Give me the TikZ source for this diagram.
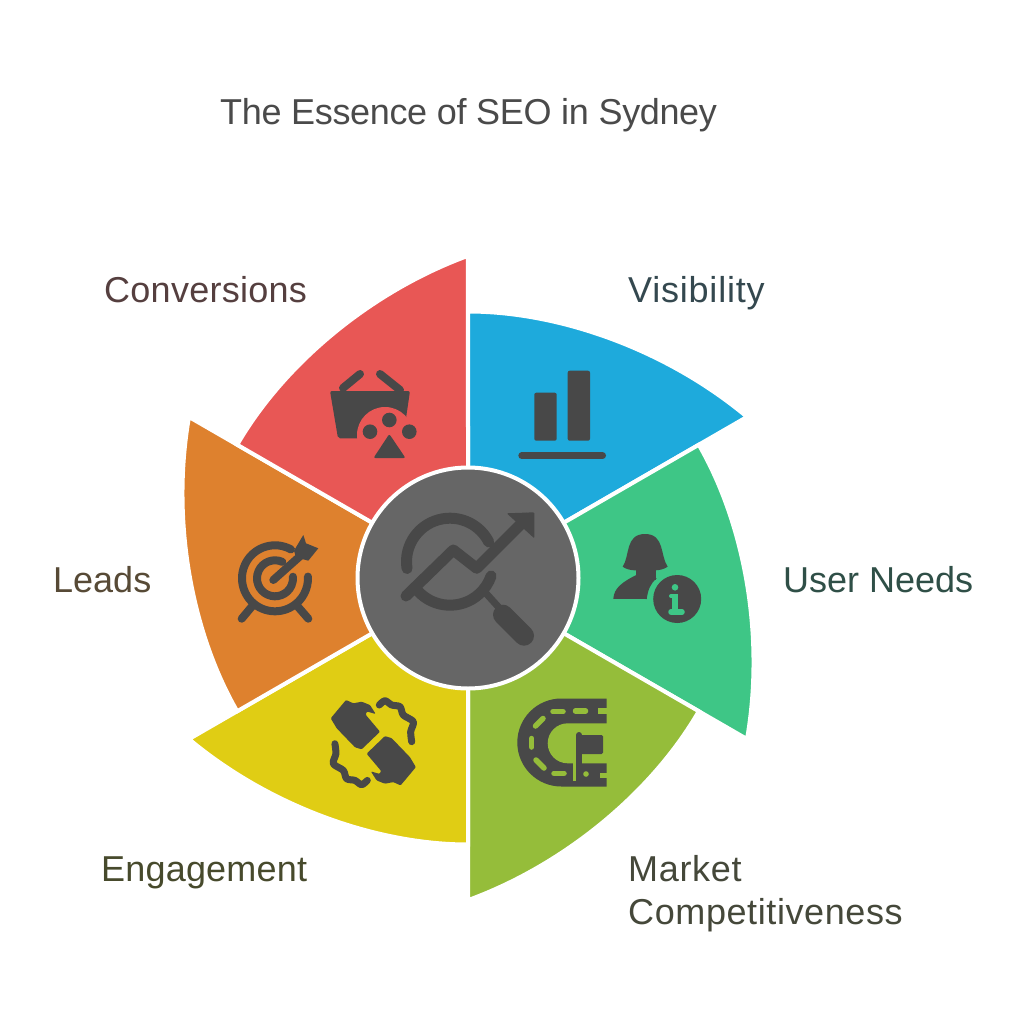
\documentclass[tikz,border=0pt]{standalone}
\usepackage{fontspec}
\setmainfont{Liberation Sans}

\begin{document}
\begin{tikzpicture}[x = 1pt, y = -1pt,
    label text/.style = {anchor = base west, inner sep = 0pt, font = \fontsize{36}{43}\selectfont\addfontfeature{LetterSpace = #1}},
    label text/.default = 0,
    icon/.style = {fill = iconcol},
    stroke/.style = {draw = iconcol, line width = 8pt, line cap = round, line join = round},
    gap/.style = {draw = #1, line width = 5.5pt, line cap = round},
    ring/.style = {draw = iconcol, line width = 11pt, line cap = round}]
  \definecolor{iconcol}{HTML}{484848}
  \definecolor{bluecol}{HTML}{1EAADC}
  \definecolor{greencol}{HTML}{3EC686}
  \definecolor{olivecol}{HTML}{95BD3A}
  \definecolor{yellowcol}{HTML}{E0CD14}
  \definecolor{orangecol}{HTML}{DE812E}
  \definecolor{redcol}{HTML}{E85755}
  \useasboundingbox (0, 0) rectangle (1024, 1024);
  \fill [white] (0, 0) rectangle (1024, 1024);

  \foreach \col [count = \i from 0] in {bluecol, greencol, olivecol, yellowcol, orangecol, redcol}
    \filldraw [fill = \col, draw = white, line width = 4pt, rotate around = {-60*\i:(468, 578)}]
      (468, 578) -- (468, 311.5) .. controls (560, 311.5) and (667, 350) .. (747, 416.9) -- cycle;
  \filldraw [fill = black!60, draw = white, line width = 4pt] (468, 578) circle [radius = 110.5];

  \node (title)  at (220, 125) [label text = -0.95, text = black!71] {The Essence of SEO in Sydney};
  \node (conv)   at (104, 302) [label text = 0.75, text = {rgb,255:red,85;green,63;blue,63}] {Conversions};
  \node (vis)    at (628, 302) [label text = 2.2, text = {rgb,255:red,52;green,72;blue,79}] {Visibility};
  \node (needs)  at (783, 592) [label text, text = {rgb,255:red,47;green,79;blue,71}] {User Needs};
  \node (leads)  at ( 53, 592) [label text, text = {rgb,255:red,87;green,74;blue,54}] {Leads};
  \node (engage) at (101, 881) [label text = 0.55, text = {rgb,255:red,71;green,74;blue,44}] {Engagement};
  \node (market) at (628, 881) [label text = 1.9, text = {rgb,255:red,69;green,72;blue,58}] {Market};
  \node (comp)   at (628, 924) [label text = 1.67, text = {rgb,255:red,69;green,72;blue,58}] {Competitiveness};

  \draw [ring] (450, 561.7) ++ (171:43.5) arc [start angle = 171, end angle = 333, radius = 43.5];
  \draw [ring] (450, 561.7) ++ (138:43.5) arc [start angle = 138, end angle = 19, radius = 43.5];
  \draw [ring, line join = round] (406, 596) -- (453.3, 550) -- (476.7, 568.3) -- (526.7, 518.3);
  \fill [icon, rounded corners = 1pt] (506.7, 513.3) -- (534.3, 512.3) -- (534.3, 538.3) -- cycle;
  \draw [draw = iconcol, line width = 7pt] (483, 590) -- (503, 612);
  \draw [draw = iconcol, line width = 20pt, line cap = round] (503, 614.7) -- (524, 635.7);

  \fill [icon, rounded corners = 2pt] (534.3, 392.7) rectangle (556.7, 440.7);
  \fill [icon, rounded corners = 2pt] (567.7, 370.7) rectangle (590, 440.7);
  \draw [stroke, line width = 7pt] (521.8, 455.7) -- (602.5, 455.7);

  \fill [icon, rounded corners = 2pt] (330, 391) -- (410, 391) -- (405, 425) -- (360, 438.3) -- (338, 438.3) -- cycle;
  \fill [redcol] (385, 435) circle [radius = 28];
  \draw [stroke] (343, 388) -- (360, 374);
  \draw [stroke] (380, 374) -- (400, 390);
  \foreach \x/\y in {370/431.7, 389.3/420, 409.3/431.7}
    \fill [icon] (\x, \y) circle [radius = 7.3];
  \fill [icon, rounded corners = 2pt] (389.3, 434) -- (373.5, 458) -- (405.5, 458) -- cycle;

  \fill [icon] (622.7, 566.7) .. controls (630, 556) and (625, 534) .. (645, 534)
    .. controls (665, 534) and (660, 556) .. (667.7, 566.7)
    .. controls (660, 572) and (650, 570) .. (645, 570) .. controls (640, 570) and (630, 572) .. (622.7, 566.7) -- cycle;
  \fill [icon] (636, 566) rectangle (656, 580);
  \fill [icon] (613.3, 598.8) .. controls (614, 588) and (622, 582) .. (638.3, 574)
    -- (656.7, 578.3) .. controls (650, 584) and (648, 590) .. (646.7, 599) -- cycle;
  \fill [icon] (677.2, 599) circle [radius = 24];
  \fill [greencol] (675, 587.3) circle [radius = 3.3];
  \draw [gap = greencol, line cap = butt, line width = 6pt] (675, 594) -- (675, 611);
  \draw [gap = greencol, line width = 4pt] (671, 596) -- (675, 596);
  \draw [gap = greencol] (671, 612) -- (682, 612);

  \fill [icon] (606.7, 698.5) -- (561.3, 698.5) arc [start angle = 270, end angle = 90, radius = 44] -- (606.7, 786.5) -- cycle;
  \fill [olivecol] (607, 723.3) -- (567.7, 723.3) arc [start angle = 270, end angle = 90, radius = 20] -- (607, 763.3) -- cycle;
  \foreach \xa/\ya/\xb/\yb in {553/711.7/563/711.7, 575.5/711/585.5/711, 535.5/726/543/718.5, 531.7/738.5/531.7/747,
      536/760/544/768, 554/773.3/564/773.3}
    \draw [gap = olivecol] (\xa, \ya) -- (\xb, \yb);
  \fill [olivecol] (586, 774) circle [radius = 2.8];
  \fill [olivecol] (598, 708) rectangle (607, 713.5);
  \fill [olivecol] (600, 773) rectangle (607, 777.5);
  \fill [olivecol] (573, 762) rectangle (575.5, 781);
  \draw [draw = iconcol, line width = 6pt, line cap = round] (579, 735) -- (579, 778);
  \fill [icon, rounded corners = 1.5pt] (579, 735) rectangle (603, 754);

  \draw [stroke] (275, 578.3) ++ (299:33) arc [start angle = 299, end angle = -3, radius = 33];
  \draw [stroke] (275, 578.3) ++ (294:18) arc [start angle = 294, end angle = -5, radius = 18];
  \draw [stroke] (273.3, 580) -- (303.3, 553.3);
  \draw [stroke] (251.7, 606.7) -- (241.7, 618.7);
  \draw [stroke] (297.3, 606) -- (308.3, 618.7);
  \fill [icon] (294, 550.7) -- (303.3, 535) -- (306, 543.3) -- (318.3, 548.3) -- (308.3, 560.7) -- (296, 557.3) -- cycle;

  \foreach \a in {0, 180} {
    \fill [icon, rounded corners = 1pt, rotate around = {\a:(373.3, 742.7)}]
      (330.7, 718.3) -- (346, 700) -- (353.3, 703.3) -- (361.7, 701.7) -- (370, 705) -- (375.7, 714)
      -- (367, 711.5) -- (365.5, 714.5) -- (380, 731.7) -- (361.7, 749.3) -- (355, 747.3) -- (336.7, 728.3) -- cycle;
    \draw [stroke, line width = 7pt, rotate around = {\a:(373.3, 742.7)}] plot [smooth] coordinates
      {(379.3, 705) (385, 700.7) (391.7, 705) (400, 706.7) (403.3, 715) (413.3, 721.7) (410.7, 731.7) (411.7, 741.7)};
  }
\end{tikzpicture}
\end{document}
